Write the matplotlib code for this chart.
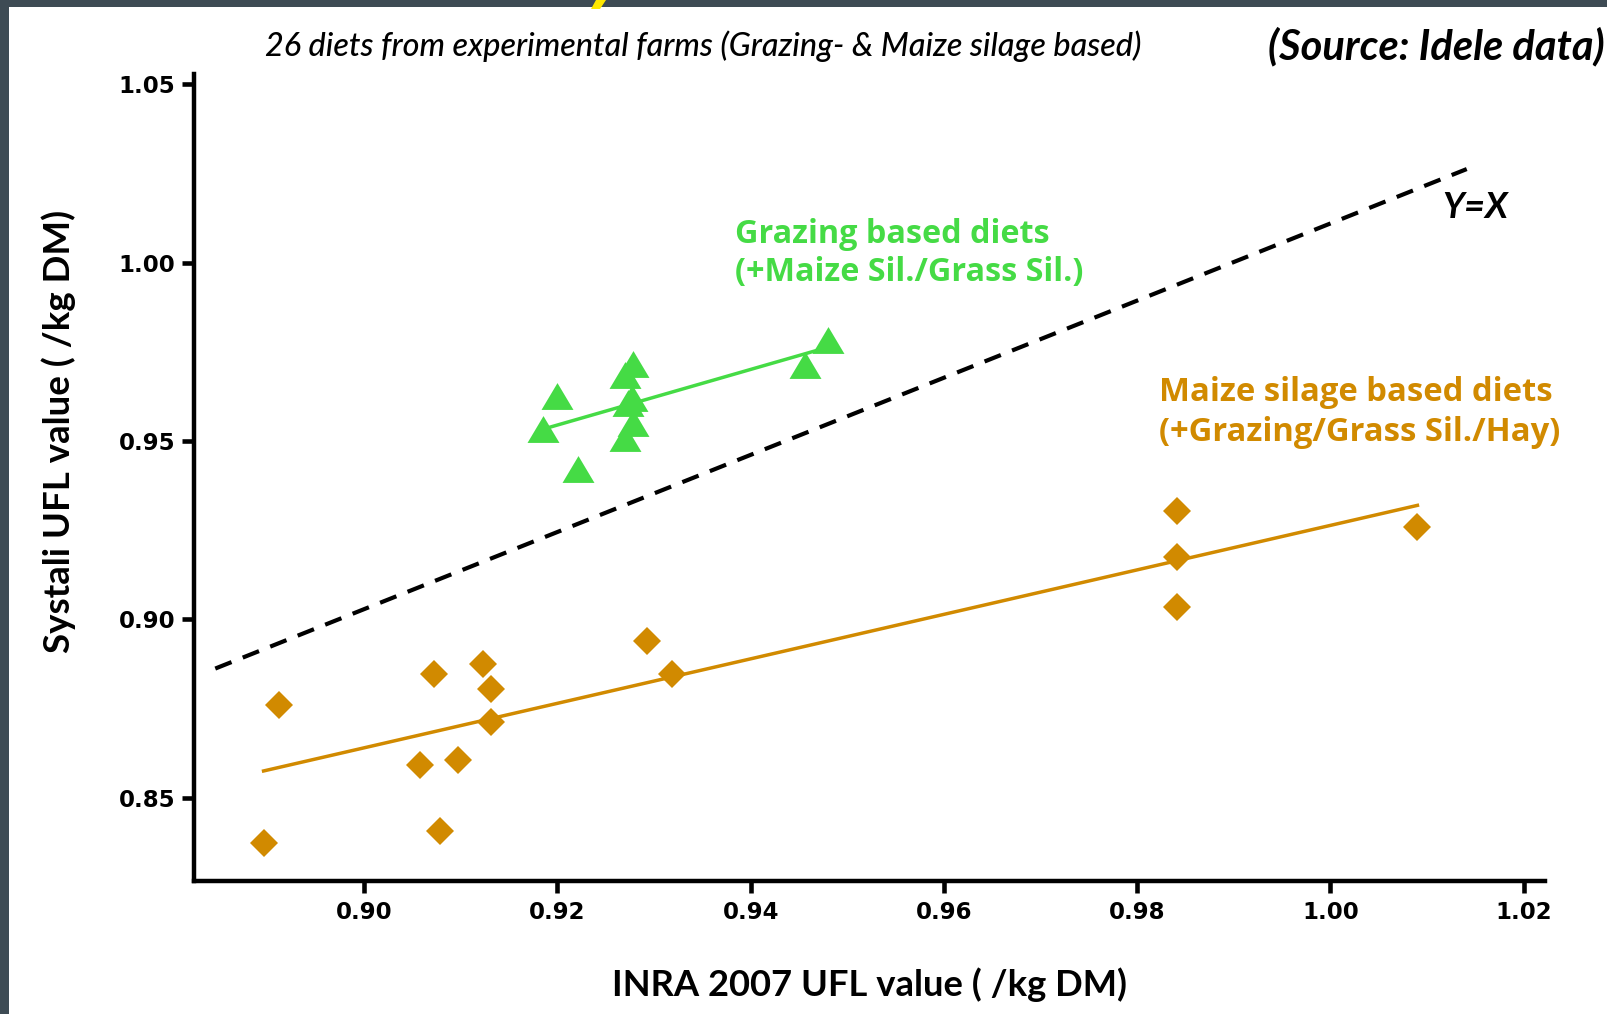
import matplotlib
matplotlib.use('Agg')
import matplotlib.pyplot as plt
import numpy as np
from matplotlib.path import Path
from matplotlib.patches import Rectangle, Polygon

# ---------------- data ----------------
grazing_inra = [0.9185, 0.9200, 0.9221, 0.9278, 0.9270, 0.9277, 0.9273, 0.9278, 0.9270, 0.9456, 0.9480]
grazing_systali = [0.9533, 0.9626, 0.9421, 0.9717, 0.9685, 0.9619, 0.9606, 0.9550, 0.9508, 0.9712, 0.9783]

maize_inra = [0.8896, 0.8912, 0.9058, 0.9072, 0.9079, 0.9097, 0.9123, 0.9131, 0.9131,
              0.9293, 0.9319, 0.9841, 0.9841, 0.9841, 1.0090]
maize_systali = [0.8373, 0.8761, 0.8592, 0.8848, 0.8408, 0.8606, 0.8876, 0.8805, 0.8713,
                 0.8940, 0.8848, 0.9305, 0.9175, 0.9034, 0.9259]

yx_ref_x = [0.8846, 1.0141]
yx_ref_y = [0.8862, 1.0262]

x_ticks = [0.90, 0.92, 0.94, 0.96, 0.98, 1.00, 1.02]
y_ticks = [0.85, 0.90, 0.95, 1.00, 1.05]

title_text = "26 diets from experimental farms (Grazing- & Maize silage based)"
source_text = "(Source: Idele data)"
xlabel_text = "INRA 2007 UFL value ( /kg DM)"
ylabel_text = "Systali UFL value ( /kg DM)"
grazing_label = ["Grazing based diets", "(+Maize Sil./Grass Sil.)"]
maize_label = ["Maize silage based diets", "(+Grazing/Grass Sil./Hay)"]
yx_label = "Y=X"

GREEN = "#45DB45"
ORANGE = "#D18A00"

# ---------------- figure ----------------
W, H = 1608, 1014
fig = plt.figure(figsize=(W / 100, H / 100), dpi=100)
fig.patch.set_facecolor("white")

ax = fig.add_axes([194 / W, 1 - 880.5 / H, (1545 - 194) / W, (880.5 - 73.8) / H])
ax.set_xlim(0.8824, 1.0222)
ax.set_ylim(0.8268, 1.0529)

for s in ["top", "right"]:
    ax.spines[s].set_visible(False)
for s in ["left", "bottom"]:
    ax.spines[s].set_linewidth(3.2)
    ax.spines[s].set_capstyle("projecting")

ax.set_xticks(x_ticks)
ax.set_xticklabels([f"{v:.2f}" for v in x_ticks])
ax.set_yticks(y_ticks)
ax.set_yticklabels([f"{v:.2f}" for v in y_ticks])
ax.tick_params(axis="both", direction="out", length=8.5, width=3.3)
ax.tick_params(axis="x", pad=6)
ax.tick_params(axis="y", pad=5)
for lab in ax.get_xticklabels() + ax.get_yticklabels():
    lab.set_fontfamily("DejaVu Sans")
    lab.set_fontweight("bold")
    lab.set_fontsize(16.5)

# triangle marker, wider than tall
tri = Path([(0, 0.84), (-1, -0.84), (1, -0.84), (0, 0.84)],
           [Path.MOVETO, Path.LINETO, Path.LINETO, Path.CLOSEPOLY])

# Y=X reference line
ax.plot(yx_ref_x, yx_ref_y, color="black", lw=3.0, dashes=(4.2, 2.9), zorder=2)

# scatter
ax.plot(grazing_inra, grazing_systali, linestyle="none", marker=tri, markersize=23,
        color=GREEN, markeredgewidth=0, zorder=3)
ax.plot(maize_inra, maize_systali, linestyle="none", marker="D", markersize=14,
        color=ORANGE, markeredgewidth=0, zorder=3)

# regression lines
for xs, ys, col in [(grazing_inra, grazing_systali, GREEN), (maize_inra, maize_systali, ORANGE)]:
    k, b = np.polyfit(xs, ys, 1)
    xx = np.array([min(xs), max(xs)])
    ax.plot(xx, k * xx + b, color=col, lw=2.5, zorder=4)

# texts
fig.text(703.5 / W, 1 - 46 / H, title_text, ha="center", va="center",
         fontfamily="Lato", fontstyle="italic", fontweight="medium", fontsize=23.3)
fig.text(1605 / W, 1 - 47 / H, source_text, ha="right", va="center",
         fontfamily="Lato", fontstyle="italic", fontweight="bold", fontsize=30)
fig.text(869.6 / W, 1 - 984.5 / H, xlabel_text, ha="center", va="center",
         fontfamily="Lato", fontweight="bold", fontsize=26.2)
fig.text(58.5 / W, 1 - 431 / H, ylabel_text, ha="center", va="center", rotation=90,
         fontfamily="Lato", fontweight="bold", fontsize=26.4)

fig.text(735 / W, 1 - 234 / H, grazing_label[0], ha="left", va="center",
         fontfamily="Open Sans", fontweight="bold", fontsize=23.3, color=GREEN)
fig.text(735 / W, 1 - 273 / H, grazing_label[1], ha="left", va="center",
         fontfamily="Open Sans", fontweight="bold", fontsize=23.3, color=GREEN)
fig.text(1158.8 / W, 1 - 392.8 / H, maize_label[0], ha="left", va="center",
         fontfamily="Open Sans", fontweight="bold", fontsize=23.6, color=ORANGE)
fig.text(1158.8 / W, 1 - 432.8 / H, maize_label[1], ha="left", va="center",
         fontfamily="Open Sans", fontweight="bold", fontsize=23.6, color=ORANGE)
fig.text(1474.7 / W, 1 - 207 / H, yx_label, ha="center", va="center",
         fontfamily="Lato", fontstyle="italic", fontweight="bold", fontsize=26)

# slide frame decoration
BAND = "#3e4b54"
fig.add_artist(Rectangle((0, 1 - 7 / H), 1, 7 / H, transform=fig.transFigure,
                         facecolor=BAND, edgecolor="none", zorder=10))
fig.add_artist(Rectangle((0, 0), 9 / W, 1, transform=fig.transFigure,
                         facecolor=BAND, edgecolor="none", zorder=10))
fig.add_artist(Polygon([(596 / W, 1), (606 / W, 1), (600 / W, 1 - 9 / H), (591 / W, 1 - 9 / H)],
                       closed=True, transform=fig.transFigure, facecolor="#FFE800",
                       edgecolor="none", zorder=11))

fig.savefig("out.png", dpi=100)
